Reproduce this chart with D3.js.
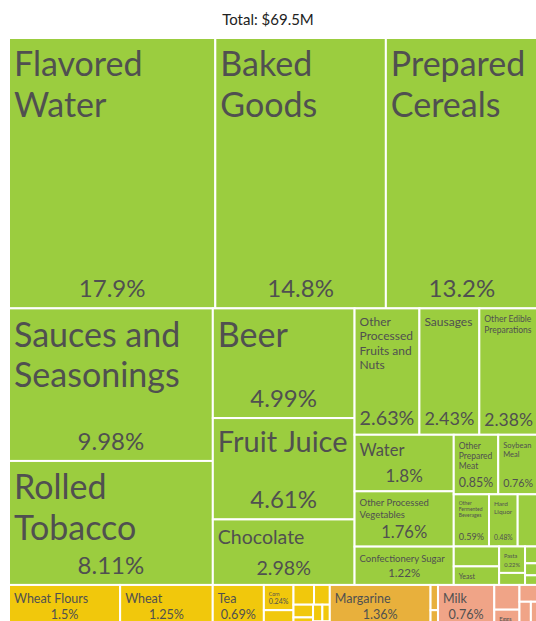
<!DOCTYPE html>
<html>
<head>
<meta charset="utf-8">
<script src="https://cdn.jsdelivr.net/npm/d3@7"></script>
<style>
  html, body { margin: 0; padding: 0; background: #fff; overflow: hidden; }
  svg { display: block; }
</style>
</head>
<body>
<svg id="chart" width="536" height="621"></svg>
<script>
// ---- data: export shares (% of total) by product, grouped by section ----
const totalLabel = "Total: $69.5M";

const sectionNames = ["Foodstuffs", "Vegetable Products", "Animal and Vegetable Bi-Products", "Animal Products"];
const sectionColors = ["#9bcd3f", "#f1c80c", "#e8b03c", "#f0a487"];

const foodstuffNames = [
  "Flavored Water", "Baked Goods", "Prepared Cereals", "Sauces and Seasonings", "Rolled Tobacco",
  "Beer", "Fruit Juice", "Chocolate", "Other Processed Fruits and Nuts", "Sausages",
  "Other Edible Preparations", "Water", "Other Processed Vegetables", "Confectionery Sugar",
  "Other Prepared Meat", "Soybean Meal", "Other Fermented Beverages", "Hard Liquor", "Raw Sugar",
  "Processed Crustaceans", "Yeast", "Pasta", "Malt Extract", "Cocoa Powder", "Vinegar", "Ice Cream"
];
const foodstuffShares = [
  17.9, 14.8, 13.2, 9.98, 8.11,
  4.99, 4.61, 2.98, 2.63, 2.43,
  2.38, 1.8, 1.76, 1.22,
  0.85, 0.76, 0.59, 0.48, 0.34,
  0.29, 0.27, 0.22, 0.10, 0.07, 0.05, 0.04
];

const vegetableNames = ["Wheat Flours", "Wheat", "Tea", "Corn", "Vegetable Saps", "Rice", "Coffee", "Oats", "Spices", "Barley", "Malt", "Hops"];
const vegetableShares = [1.5, 1.25, 0.69, 0.24, 0.16, 0.13, 0.10, 0.08, 0.06, 0.05, 0.04, 0.03];

const fatNames = ["Margarine", "Pure Olive Oil", "Animal Fats"];
const fatShares = [1.36, 0.06, 0.04];

const animalNames = ["Milk", "Cheese", "Eggs", "Honey", "Butter", "Processed Fish", "Frozen Fish"];
const animalShares = [0.76, 0.20, 0.14, 0.10, 0.08, 0.05, 0.02];

// ---- build hierarchy ----
const sectionItems = [
  [foodstuffNames, foodstuffShares],
  [vegetableNames, vegetableShares],
  [fatNames, fatShares],
  [animalNames, animalShares]
];
const rootData = {
  name: "root",
  children: sectionNames.map((s, i) => ({
    name: s,
    color: sectionColors[i],
    children: sectionItems[i][0].map((n, j) => ({ name: n, share: sectionItems[i][1][j] }))
  }))
};

const margin = { left: 9, top: 38 };
const mapWidth = 529, mapHeight = 589;

const root = d3.hierarchy(rootData)
  .sum(d => d.share || 0)
  .sort((a, b) => b.value - a.value);

d3.treemap()
  .tile(d3.treemapSquarify)
  .size([mapWidth, mapHeight])
  .round(false)(root);

const svg = d3.select("#chart");
const FONT = "Lato, 'Source Sans Pro', sans-serif";
const TEXT_COLOR = "#505050";

svg.append("text")
  .attr("x", 268)
  .attr("y", 25)
  .attr("text-anchor", "middle")
  .attr("font-family", FONT)
  .attr("font-size", 15)
  .attr("fill", "#222")
  .text(totalLabel);

const g = svg.append("g").attr("transform", `translate(${margin.left},${margin.top})`);

// ---- text measuring / fitting ----
const ctx = document.createElement("canvas").getContext("2d");
function textWidth(str, size) {
  ctx.font = `${size}px Lato`;
  return ctx.measureText(str).width;
}
function wrap(words, size, maxW) {
  const lines = [];
  let cur = "";
  for (const w of words) {
    const t = cur ? cur + " " + w : w;
    if (!cur || textWidth(t, size) <= maxW) cur = t;
    else { lines.push(cur); cur = w; }
  }
  if (cur) lines.push(cur);
  return lines;
}

const LH = 1.2, MIN_FONT = 5, MAX_NAME = 34, MAX_SHARE = 24;
function fitLabel(w, h, name, share) {
  const padX = 5, padT = 6, padB = 4;
  const innerW = w - 2 * padX;
  const words = name.split(" ");
  if (w < 22 || h < 14) return { nameFit: null };
  const tryName = (cap, availH) => {
    for (let s = Math.floor(cap * 2) / 2; s >= MIN_FONT; s -= 0.5) {
      const lines = wrap(words, s, innerW);
      if (lines.every(l => textWidth(l, s) <= innerW) && lines.length * s * LH <= availH) {
        return { s, lines };
      }
    }
    return null;
  };
  const s2 = Math.min(MAX_SHARE, h * 0.3, innerW / textWidth(share, 1));
  let nameFit = null, showShare = s2 >= MIN_FONT - 0.5;
  if (showShare) nameFit = tryName(s2 >= MAX_SHARE ? MAX_NAME : s2, h - padT - padB - s2 * 1.3);
  if (!nameFit) {
    showShare = false;
    nameFit = tryName(MAX_NAME, h - padT - padB);
  }
  return { padX, padT, padB, nameFit, showShare, s2 };
}

// ---- draw cells ----
const leaves = root.leaves();
const cell = g.selectAll("g.cell")
  .data(leaves)
  .join("g")
  .attr("class", "cell");

cell.append("rect")
  .attr("x", d => d.x0)
  .attr("y", d => d.y0)
  .attr("width", d => d.x1 - d.x0)
  .attr("height", d => d.y1 - d.y0)
  .attr("fill", d => d.parent.data.color)
  .attr("stroke", "#fff")
  .attr("stroke-width", 2);

cell.each(function (d) {
  const w = d.x1 - d.x0, h = d.y1 - d.y0;
  const shareText = d.data.share + "%";
  const lab = fitLabel(w, h, d.data.name, shareText);
  const sel = d3.select(this);
  if (lab.nameFit) {
    const { s, lines } = lab.nameFit;
    const t = sel.append("text")
      .attr("font-family", FONT)
      .attr("font-size", s)
      .attr("fill", TEXT_COLOR);
    lines.forEach((line, i) => {
      t.append("tspan")
        .attr("x", d.x0 + lab.padX)
        .attr("y", d.y0 + lab.padT + s * 0.95 + i * s * LH)
        .text(line);
    });
  }
  if (lab.nameFit && lab.showShare) {
    sel.append("text")
      .attr("x", (d.x0 + d.x1) / 2)
      .attr("y", d.y1 - lab.padB - lab.s2 * 0.3)
      .attr("text-anchor", "middle")
      .attr("font-family", FONT)
      .attr("font-size", lab.s2)
      .attr("fill", TEXT_COLOR)
      .text(shareText);
  }
});
</script>
</body>
</html>
